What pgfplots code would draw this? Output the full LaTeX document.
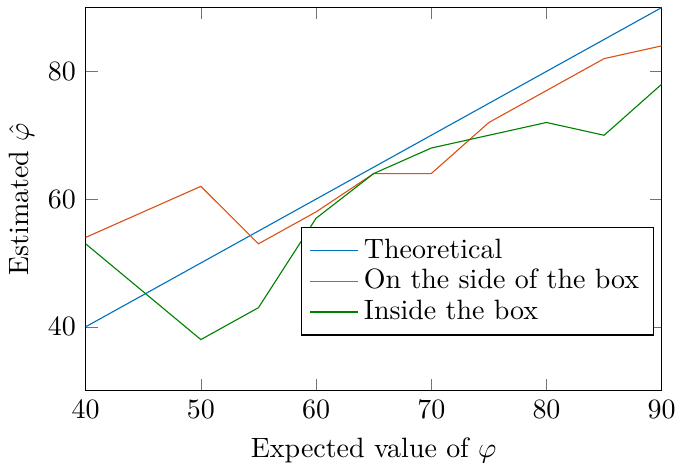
\documentclass[border={0pt 0pt 0pt 2.5pt}]{standalone}
\usepackage{pgfplots}
\pgfplotsset{compat=1.18}
\definecolor{mblue}{rgb}{0,0.447,0.741}
\definecolor{morange}{rgb}{0.85,0.325,0.098}
\definecolor{mgreen}{rgb}{0,0.5,0}
\begin{document}
\begin{tikzpicture}
\begin{axis}[
  scale only axis,
  width=206pt, height=137pt,
  xmin=40, xmax=90, ymin=30, ymax=90,
  xtick={40,50,60,70,80,90},
  ytick={40,60,80},
  tick align=inside,
  tick style={draw=black!55},
  xlabel={Expected value of $\varphi$},
  ylabel={Estimated $\hat{\varphi}$},
  ylabel style={yshift=-2pt},
  legend style={at={(0.986,0.144)}, anchor=south east, legend cell align=left, draw=black, row sep=-1.5pt},
]
\addplot[color=mblue, no markers] coordinates {(40,40) (90,90)};
\addlegendentry{Theoretical}
\addplot[color=morange, no markers] coordinates {(40,54) (50,62) (55,53) (60,58) (65,64) (70,64) (75,72) (80,77) (85,82) (90,84)};
\addlegendentry{On the side of the box}
\addplot[color=mgreen, no markers] coordinates {(40,53) (50,38) (55,43) (60,57) (65,64) (70,68) (75,70) (80,72) (85,70) (90,78)};
\addlegendentry{Inside the box}
\end{axis}
\end{tikzpicture}
\end{document}
